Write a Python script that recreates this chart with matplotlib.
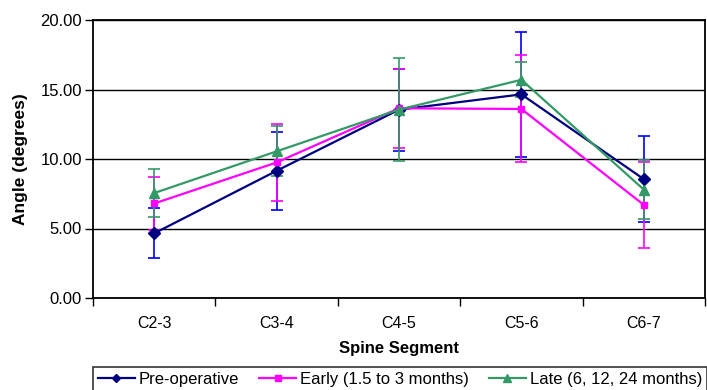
import matplotlib
matplotlib.use("Agg")
import matplotlib.pyplot as plt
import numpy as np

plt.rcParams['font.family'] = ['Liberation Sans', 'DejaVu Sans']

segments = ["C2-3", "C3-4", "C4-5", "C5-6", "C6-7"]

# mean angles (degrees)
pre_op = [4.65, 9.15, 13.55, 14.65, 8.55]
early = [6.8, 9.75, 13.65, 13.6, 6.7]
late = [7.55, 10.55, 13.55, 15.7, 7.8]

# error bar half-widths
pre_op_err = [1.8, 2.8, 2.95, 4.5, 3.1]
early_err = [1.9, 2.8, 2.85, 3.85, 3.1]
late_err = [1.7, 1.8, 3.7, 1.25, 2.1]

labels = ["Pre-operative", "Early (1.5 to 3 months)", "Late (6, 12, 24 months)"]

fig = plt.figure(figsize=(7.07, 3.9), dpi=100)
ax = fig.add_axes([93 / 707, 1 - 298 / 390, 612 / 707, 278 / 390])

x = np.arange(len(segments))

series = [
    (pre_op, pre_op_err, "#000080", "#0000FF", "D", 6),
    (early, early_err, "#FF00FF", "#FF00FF", "s", 5),
    (late, late_err, "#339966", "#339966", "^", 7),
]

handles = []
for (vals, errs, col, ecol, mk, ms), lab in zip(series, labels):
    ax.errorbar(x, vals, yerr=errs, fmt="none", ecolor=ecol,
                elinewidth=1.2, capsize=4, capthick=1.2, zorder=2)
    h, = ax.plot(x, vals, color=col, lw=1.6, marker=mk, markersize=ms,
                 markerfacecolor=col, markeredgecolor=col, label=lab, zorder=3)
    handles.append(h)

ax.set_xlim(-0.5, len(segments) - 0.5)
ax.set_ylim(0, 20)
ax.set_yticks([0, 5, 10, 15, 20])
ax.set_yticklabels(["%.2f" % v for v in [0, 5, 10, 15, 20]])
ax.yaxis.grid(True, color="black", lw=1)
ax.set_axisbelow(True)

ax.set_xticks(x)
ax.set_xticklabels(segments)
ax.set_xticks(np.arange(-0.5, len(segments)), minor=True)
ax.tick_params(axis="x", which="major", length=0, pad=13, labelsize=11.5)
ax.tick_params(axis="x", which="minor", length=6, width=1, direction="out")
ax.tick_params(axis="y", length=6, width=1, direction="out", pad=2, labelsize=12)

for s in ax.spines.values():
    s.set_linewidth(1.3)
    s.set_color("black")

ax.set_xlabel("Spine Segment", fontsize=12, fontweight="bold", labelpad=7)
ax.set_ylabel("Angle (degrees)", fontsize=12.5, fontweight="bold", labelpad=9)

leg = fig.legend(handles=handles, labels=labels, loc="upper left",
                 bbox_to_anchor=(93 / 707, 1 - 367 / 390), ncol=3,
                 fontsize=12, frameon=True, fancybox=False, edgecolor="black",
                 handlelength=2.2, handletextpad=0.25, columnspacing=1.2,
                 borderpad=0.3, borderaxespad=0, markerscale=0.75)
leg.get_frame().set_linewidth(1.2)

fig.savefig("out.png", dpi=100)
